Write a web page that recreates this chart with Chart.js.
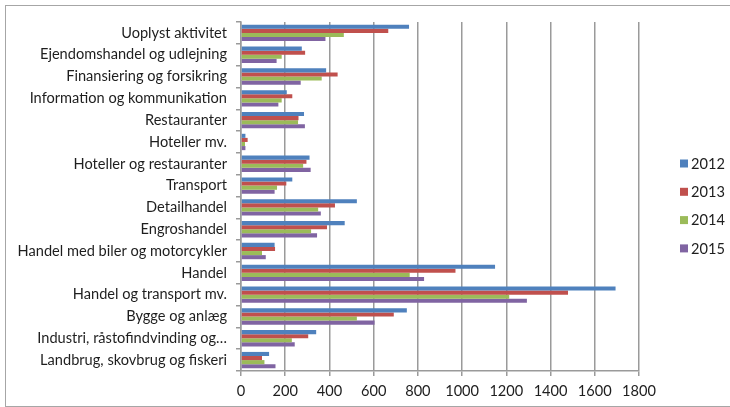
<!DOCTYPE html>
<html>
<head>
<meta charset="utf-8">
<script src="https://cdn.jsdelivr.net/npm/chart.js@4/dist/chart.umd.min.js"></script>
<style>
  html, body { margin: 0; padding: 0; background: #fff; }
  #wrap { position: relative; width: 730px; height: 407px; overflow: hidden; }
  #frame { position: absolute; left: 5px; top: 5px; width: 726px; height: 402px;
           border: 1px solid #a6a6a6; box-sizing: border-box; }
  #c { position: absolute; left: 0; top: 0; }
</style>
</head>
<body>
<div id="wrap">
  <div id="frame"></div>
  <canvas id="c" width="730" height="407"></canvas>
</div>
<script>
// Branches, top to bottom
const categories = [
  'Uoplyst aktivitet',
  'Ejendomshandel og udlejning',
  'Finansiering og forsikring',
  'Information og kommunikation',
  'Restauranter',
  'Hoteller mv.',
  'Hoteller og restauranter',
  'Transport',
  'Detailhandel',
  'Engroshandel',
  'Handel med biler og motorcykler',
  'Handel',
  'Handel og transport mv.',
  'Bygge og anlæg',
  'Industri, råstofindvinding og…',
  'Landbrug, skovbrug og fiskeri'
];

const years = ['2012', '2013', '2014', '2015'];

const values2012 = [760, 275, 385, 207, 285, 20, 310, 232, 524, 469, 152, 1149, 1694, 750, 340, 127];
const values2013 = [666, 290, 437, 232, 260, 30, 296, 205, 425, 389, 154, 970, 1479, 691, 304, 95];
const values2014 = [465, 184, 365, 184, 258, 18, 281, 163, 349, 317, 95, 763, 1213, 524, 230, 106];
const values2015 = [382, 161, 270, 169, 289, 20, 315, 152, 361, 344, 112, 828, 1293, 604, 243, 156];

const xTickLabels = ['0', '200', '400', '600', '800', '1000', '1200', '1400', '1600', '1800'];

const seriesColors = ['#4F81BD', '#C0504D', '#9BBB59', '#8064A2'];

const FONT = { family: 'Lato, "Open Sans", sans-serif', size: 14.6 };
const TEXT = '#1e1e1e';
const GRID = '#9a9a9a';

// Legend in a column to the right of the plot
const sideLegend = {
  id: 'sideLegend',
  afterDraw(chart, args, opts) {
    const ctx = chart.ctx;
    ctx.save();
    ctx.font = FONT.size + 'px ' + FONT.family;
    ctx.textBaseline = 'middle';
    ctx.textAlign = 'left';
    chart.data.datasets.forEach((ds, i) => {
      const cy = opts.top + i * opts.step;
      ctx.fillStyle = ds.backgroundColor;
      ctx.fillRect(opts.left, cy - opts.box / 2, opts.box, opts.box);
      ctx.fillStyle = TEXT;
      ctx.fillText(ds.label, opts.left + opts.box + 3, cy + 0.5);
    });
    ctx.restore();
  }
};

const seriesValues = [values2012, values2013, values2014, values2015];

new Chart(document.getElementById('c'), {
  type: 'bar',
  data: {
    labels: categories,
    datasets: years.map((y, i) => ({
      label: y,
      data: seriesValues[i],
      backgroundColor: seriesColors[i],
      borderWidth: 0,
      categoryPercentage: 0.75,
      barPercentage: 1.0
    }))
  },
  options: {
    indexAxis: 'y',
    responsive: false,
    animation: false,
    devicePixelRatio: 1,
    layout: { padding: { left: 5, right: 91, top: 22, bottom: 0 } },
    plugins: {
      legend: { display: false },
      tooltip: { enabled: false },
      sideLegend: { left: 680, top: 163.5, step: 28.3, box: 8 }
    },
    scales: {
      x: {
        min: 0,
        max: 1800,
        ticks: {
          stepSize: 200,
          font: FONT,
          color: TEXT,
          padding: 7,
          maxRotation: 0,
          callback: (v, i) => xTickLabels[i]
        },
        grid: { color: GRID, lineWidth: 1.5, tickLength: 5, drawTicks: true },
        border: { color: GRID, width: 1.5 },
        afterFit(scale) { scale.height = 36; }
      },
      y: {
        ticks: { font: FONT, color: TEXT, padding: 9, autoSkip: false },
        grid: { drawOnChartArea: false, drawTicks: true, tickLength: 5, color: GRID, lineWidth: 1.5, offset: true },
        border: { color: GRID, width: 1.5 },
        afterFit(scale) { scale.width = 236; }
      }
    }
  },
  plugins: [sideLegend]
});
</script>
</body>
</html>
